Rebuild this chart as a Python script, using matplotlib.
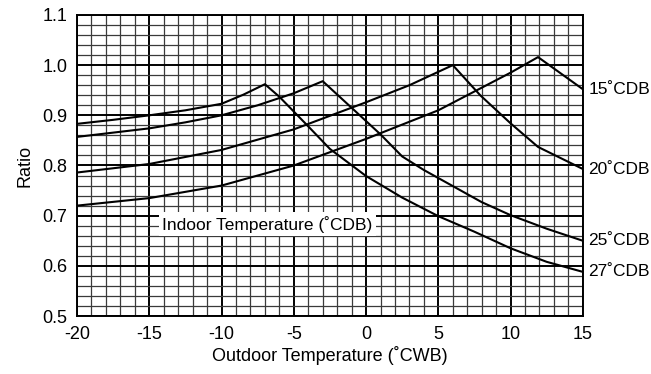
import matplotlib.pyplot as plt
from matplotlib.ticker import MultipleLocator

plt.rcParams['font.family'] = ['Liberation Sans', 'DejaVu Sans']
plt.rcParams['axes.unicode_minus'] = False

# curve data (outdoor temp, ratio)
x27 = [-20, -17.5, -15, -12.5, -10, -8.5, -7, -6, -4, -2.5, 0, 2.5, 5, 7.5, 10, 12.5, 15]
y27 = [0.883, 0.891, 0.900, 0.910, 0.923, 0.941, 0.962, 0.937, 0.878, 0.833, 0.779, 0.736, 0.699, 0.668, 0.635, 0.608, 0.588]

x25 = [-20, -15, -12.5, -10, -7.5, -5, -3, -1, 1, 2.5, 4, 6.5, 8, 10, 12.5, 15]
y25 = [0.857, 0.874, 0.886, 0.900, 0.920, 0.944, 0.968, 0.915, 0.862, 0.818, 0.791, 0.751, 0.727, 0.701, 0.674, 0.650]

x20 = [-20, -15, -10, -5, 0, 3, 6, 7.9, 10, 11.9, 15]
y20 = [0.786, 0.803, 0.831, 0.872, 0.926, 0.960, 1.000, 0.940, 0.884, 0.837, 0.793]

x15 = [-20, -15, -10, -5, 0, 5, 10, 11.9, 15]
y15 = [0.720, 0.735, 0.760, 0.800, 0.853, 0.910, 0.985, 1.016, 0.952]

end_labels = ['15˚CDB', '20˚CDB', '25˚CDB', '27˚CDB']
end_values = [y15[-1], y20[-1], y25[-1], y27[-1]]

fig = plt.figure(figsize=(6.51, 3.74), dpi=100)
ax = fig.add_axes([0.1183, 0.155, 0.777, 0.805])

for xs, ys in [(x27, y27), (x25, y25), (x20, y20), (x15, y15)]:
    ax.plot(xs, ys, color='black', lw=1.5, zorder=4)

ax.set_xlim(-20, 15)
ax.set_ylim(0.5, 1.1)
ax.xaxis.set_major_locator(MultipleLocator(5))
ax.xaxis.set_minor_locator(MultipleLocator(1))
ax.yaxis.set_major_locator(MultipleLocator(0.1))
ax.yaxis.set_minor_locator(MultipleLocator(0.02))
ax.set_yticklabels([f'{v:.1f}' for v in ax.get_yticks()])
ax.grid(which='major', color='black', lw=1.4)
ax.grid(which='minor', color='#3a3a3a', lw=0.9)
ax.tick_params(which='both', length=0, labelsize=13, pad=7)
for s in ax.spines.values():
    s.set_linewidth(1.4)

for lab, v in zip(end_labels, end_values):
    ax.text(15.4, v, lab, fontsize=12.5, va='center', ha='left', clip_on=False)

ax.text(-14.1, 0.683, 'Indoor Temperature (˚CDB)', fontsize=12.5, va='center', ha='left',
        bbox=dict(facecolor='white', edgecolor='none', pad=2.5))

ax.set_xlabel('Outdoor Temperature (˚CWB)', fontsize=13, labelpad=2)
ax.set_ylabel('Ratio', fontsize=13, labelpad=6)

fig.savefig('out.png', dpi=100)
